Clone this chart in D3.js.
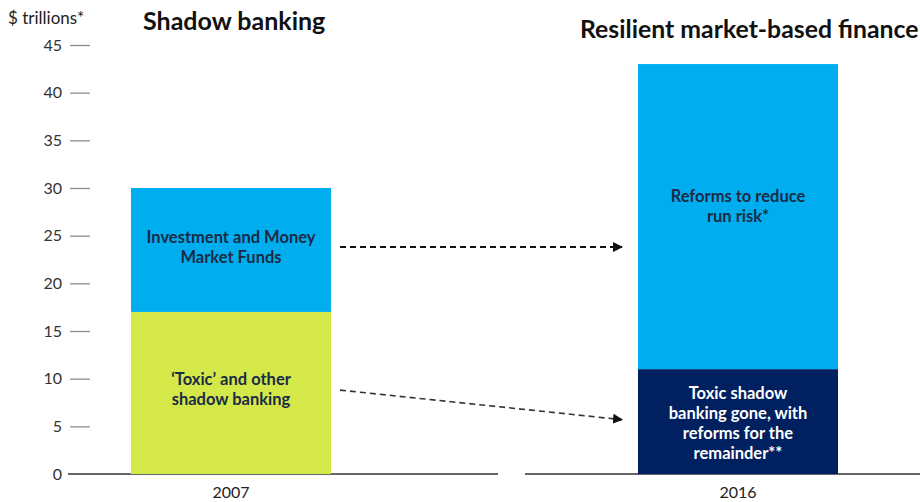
<!DOCTYPE html>
<html>
<head>
<meta charset="utf-8">
<script src="https://cdn.jsdelivr.net/npm/d3@7"></script>
<style>
  html, body { margin: 0; padding: 0; background: #fff; }
  svg { display: block; font-family: Lato, "Open Sans", sans-serif; }
</style>
</head>
<body>
<svg id="chart" width="920" height="502"></svg>
<script>
// Years shown on the category axis
const years = ["2007", "2016"];
// Stack segments, bottom to top, in $ trillions
const lowerValues = [17, 11];   // 'Toxic' and other / toxic gone with reforms
const upperValues = [13, 32];   // Investment and money market funds / reforms to reduce run risk
const lowerColors = ["#d4e84a", "#002060"];
const upperColors = ["#00aeef", "#00aeef"];
const lowerLabels = [["\u2018Toxic\u2019 and other", "shadow banking"],
                     ["Toxic shadow", "banking gone, with", "reforms for the", "remainder**"]];
const upperLabels = [["Investment and Money", "Market Funds"],
                     ["Reforms to reduce", "run risk*"]];
const lowerTextColors = ["#1a2b45", "#ffffff"];
const upperTextColors = ["#1a2b45", "#1a2b45"];
const panelTitles = ["Shadow banking", "Resilient market-based finance"];
const tickValues = [0, 5, 10, 15, 20, 25, 30, 35, 40, 45];
const yUnit = "$ trillions*";

const svg = d3.select("#chart");

const y = d3.scaleLinear().domain([0, 45]).range([474, 45]);
const x = d3.scaleBand().domain(years).range([131, 838]).paddingInner(0.6055).paddingOuter(0);

// Y axis: short grey tick dashes with labels, no domain line
const yAxis = d3.axisLeft(y).tickValues(tickValues).tickSize(20).tickPadding(8);
const gy = svg.append("g").attr("transform", "translate(90,0)").call(yAxis);
gy.select(".domain").remove();
gy.selectAll(".tick line").attr("stroke", "#8c8c8c").attr("stroke-width", 1.3);
gy.selectAll(".tick text")
  .attr("font-family", "Lato, sans-serif")
  .attr("font-size", 16).attr("fill", "#333");
gy.selectAll(".tick").filter(d => d === 0).select("line").remove();

svg.append("text").attr("x", 8).attr("y", 24)
  .attr("font-size", 17).attr("fill", "#222").text(yUnit);

// Baseline, broken between the two panels
const baseSegments = [[68, 498], [525, 920]];
svg.selectAll("line.base").data(baseSegments).enter().append("line")
  .attr("class", "base")
  .attr("x1", d => d[0]).attr("x2", d => d[1])
  .attr("y1", y(0)).attr("y2", y(0))
  .attr("stroke", "#333").attr("stroke-width", 1.5);

// Stacked bars
years.forEach((yr, i) => {
  const x0 = x(yr), w = x.bandwidth();
  const lo = lowerValues[i], hi = lowerValues[i] + upperValues[i];
  svg.append("rect").attr("x", x0).attr("width", w)
    .attr("y", y(lo)).attr("height", y(0) - y(lo)).attr("fill", lowerColors[i]);
  svg.append("rect").attr("x", x0).attr("width", w)
    .attr("y", y(hi)).attr("height", y(lo) - y(hi)).attr("fill", upperColors[i]);
});

// Segment labels
function block(lines, cx, cy, color) {
  const lh = 20.3;
  const t = svg.append("text").attr("text-anchor", "middle")
    .attr("font-size", 16.5).attr("font-weight", 700).attr("fill", color);
  lines.forEach((s, k) => {
    t.append("tspan").attr("x", cx)
      .attr("y", cy + (k - (lines.length - 1) / 2) * lh + 6).text(s);
  });
}
const cx = years.map(yr => x(yr) + x.bandwidth() / 2);
block(upperLabels[0], cx[0], y(23.8), upperTextColors[0]);
block(lowerLabels[0], cx[0], y(8.9), lowerTextColors[0]);
block(upperLabels[1], cx[1], y(28.1), upperTextColors[1]);
block(lowerLabels[1], cx[1], y(5.35), lowerTextColors[1]);

// Category labels
years.forEach((yr, i) => {
  svg.append("text").attr("x", cx[i]).attr("y", 498).attr("text-anchor", "middle")
    .attr("font-size", 16).attr("fill", "#222").text(yr);
});

// Panel titles
svg.append("text").attr("x", 143).attr("y", 30).attr("font-size", 25)
  .attr("font-weight", 700).attr("fill", "#111").text(panelTitles[0]);
svg.append("text").attr("x", 580).attr("y", 38).attr("font-size", 24.8)
  .attr("font-weight", 700).attr("fill", "#111").text(panelTitles[1]);

// Dashed flow arrows between panels
const defs = svg.append("defs");
defs.append("marker").attr("id", "head").attr("viewBox", "0 0 10 10")
  .attr("refX", 9).attr("refY", 5).attr("markerWidth", 10).attr("markerHeight", 10)
  .attr("markerUnits", "userSpaceOnUse").attr("orient", "auto")
  .append("path").attr("d", "M0,0L10,5L0,10Z").attr("fill", "#111");

svg.append("line").attr("x1", 340).attr("y1", y(23.8)).attr("x2", 622).attr("y2", y(23.8))
  .attr("stroke", "#111").attr("stroke-width", 2).attr("stroke-dasharray", "6,4")
  .attr("marker-end", "url(#head)");
svg.append("line").attr("x1", 340).attr("y1", y(8.8)).attr("x2", 622).attr("y2", y(5.7))
  .attr("stroke", "#333").attr("stroke-width", 1.6).attr("stroke-dasharray", "6,4")
  .attr("marker-end", "url(#head)");
</script>
</body>
</html>
